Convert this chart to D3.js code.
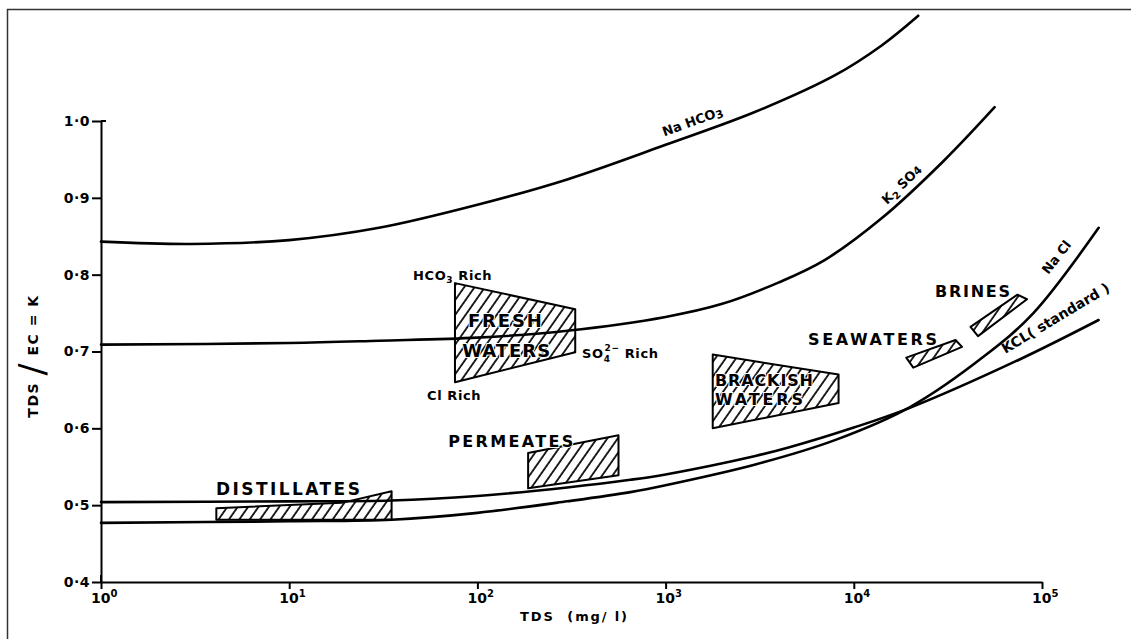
<!DOCTYPE html>
<html>
<head>
<meta charset="utf-8">
<script src="https://cdn.jsdelivr.net/npm/d3@7"></script>
<style>
  body { margin: 0; background: #fff; }
  svg { display: block; }
  text { font-family: "DejaVu Sans", sans-serif; fill: #000; }
</style>
</head>
<body>
<svg id="chart" width="1131" height="639"></svg>
<script>
// curves: TDS (mg/l) vs K = TDS/EC
const nahco3Tds = [1, 3, 10, 30, 100, 300, 1000, 3000, 8000, 14000, 22000]
const nahco3K   = [0.843, 0.840, 0.845, 0.861, 0.891, 0.924, 0.969, 1.012, 1.060, 1.098, 1.137]

const k2so4Tds = [1, 10, 30, 100, 300, 1000, 2000, 4000, 7000, 14000, 30000, 56000]
const k2so4K   = [0.709, 0.711, 0.714, 0.718, 0.727, 0.745, 0.762, 0.790, 0.819, 0.873, 0.948, 1.018]

const kclTds = [1, 10, 35, 100, 300, 650, 1000, 3000, 4500, 10000, 20000, 75000, 200000]
const kclK   = [0.504, 0.505, 0.506, 0.512, 0.523, 0.533, 0.540, 0.564, 0.575, 0.601, 0.627, 0.689, 0.741]

const naclTds = [1, 10, 35, 100, 300, 650, 1000, 3000, 8000, 20000, 50000, 90000, 200000]
const naclK   = [0.477, 0.479, 0.481, 0.490, 0.505, 0.517, 0.526, 0.553, 0.585, 0.628, 0.695, 0.750, 0.861]

// water type regions (TDS, K corners)
const freshWaters = [[76, 0.789], [331, 0.755], [331, 0.699], [76, 0.660]]
const brackishWaters = [[1780, 0.696], [8300, 0.670], [8300, 0.633], [1780, 0.600]]
const seawaters = [[19000, 0.692], [34700, 0.715], [37600, 0.706], [20700, 0.679]]
const brines = [[41700, 0.732], [74100, 0.774], [83200, 0.768], [45700, 0.720]]
const permeates = [[186, 0.568], [562, 0.591], [562, 0.539], [186, 0.522]]
const distillates = [[4.1, 0.481], [4.1, 0.496], [19, 0.503], [35, 0.518], [35, 0.481]]

const yTicks = [0.4, 0.5, 0.6, 0.7, 0.8, 0.9, 1.0]
const xTicks = [1, 10, 100, 1000, 10000, 100000]
const xExponents = ['0', '1', '2', '3', '4', '5']

// labels anchored in data units, with the lettered width
const regionLabels = [
    { text: 'FRESH', tds: 89, k: 0.732, size: 18, len: 74 },
    { text: 'WATERS', tds: 83, k: 0.693, size: 18, len: 88 },
    { text: 'BRACKISH', tds: 1830, k: 0.655, size: 16, len: 98 },
    { text: 'WATERS', tds: 1830, k: 0.631, size: 16, len: 88 },
    { text: 'SEAWATERS', tds: 5710, k: 0.709, size: 16, len: 129 },
    { text: 'BRINES', tds: 27000, k: 0.771, size: 16, len: 75 },
    { text: 'PERMEATES', tds: 70, k: 0.576, size: 16, len: 125 },
    { text: 'DISTILLATES', tds: 4.08, k: 0.513, size: 17, len: 144 },
]

const margin = { left: 101, right: 89, top: 121, bottom: 57 }
const size = { width: 1131, height: 639 }

const svg = d3.select('#chart')

const x = d3.scaleLog()
    .domain([1, 100000])
    .range([margin.left, size.width - margin.right])

const y = d3.scaleLinear()
    .domain([0.4, 1.0])
    .range([size.height - margin.bottom, margin.top])

// frame
svg.append('rect')
    .attr('x', 7.5).attr('y', 9.5)
    .attr('width', 1200).attr('height', 700)
    .attr('fill', 'none')
    .attr('stroke', '#333')
    .attr('stroke-width', 1.5)

const defs = svg.append('defs')
defs.append('pattern')
    .attr('id', 'hatch')
    .attr('width', 8.5).attr('height', 8.5)
    .attr('patternUnits', 'userSpaceOnUse')
    .attr('patternTransform', 'rotate(35)')
  .append('line')
    .attr('x1', 1).attr('y1', 0)
    .attr('x2', 1).attr('y2', 8.5)
    .attr('stroke', '#000')
    .attr('stroke-width', 1.7)

// axes
const yAxis = svg.append('g')
    .attr('transform', `translate(${margin.left},0)`)
    .call(d3.axisLeft(y)
        .tickValues(yTicks)
        .tickSize(9)
        .tickSizeOuter(0)
        .tickPadding(2)
        .tickFormat(d => d3.format('.1f')(d).replace('.', '·')))
yAxis.selectAll('path, line').attr('stroke-width', 2)
yAxis.selectAll('text')
    .style('font-family', '"DejaVu Sans", sans-serif')
    .style('font-size', '14px')
    .style('font-weight', 'bold')
    .style('letter-spacing', '0.5px')
// small hook at the top of the K axis
yAxis.append('line')
    .attr('x1', 0).attr('x2', 5)
    .attr('y1', y(1.0)).attr('y2', y(1.0))
    .attr('stroke', '#000').attr('stroke-width', 2)

const xAxis = svg.append('g')
    .attr('transform', `translate(0,${y(0.4)})`)
    .call(d3.axisBottom(x)
        .tickValues(xTicks)
        .tickSize(7)
        .tickSizeOuter(0)
        .tickFormat(''))
xAxis.selectAll('path, line').attr('stroke-width', 2)
// 0.4 / 10^0 crossing
xAxis.append('line')
    .attr('x1', x(1)).attr('x2', x(1))
    .attr('y1', -7).attr('y2', 0)
    .attr('stroke', '#000').attr('stroke-width', 2)

xTicks.forEach((t, i) => {
    const lbl = svg.append('text')
        .attr('x', x(t) - 10)
        .attr('y', y(0.4) + 21)
        .style('font-size', '14px')
        .style('font-weight', 'bold')
    lbl.append('tspan').text('10')
    lbl.append('tspan')
        .attr('dy', -6)
        .style('font-size', '10px')
        .text(xExponents[i])
})

svg.append('text')
    .attr('x', 520)
    .attr('y', 621)
    .attr('textLength', 107)
    .attr('lengthAdjust', 'spacing')
    .style('font-size', '13px')
    .style('font-weight', 'bold')
    .attr('xml:space', 'preserve')
    .text('TDS  (mg/ l)')

const yLabel = svg.append('text')
    .attr('transform', 'translate(38,356) rotate(-90)')
    .attr('text-anchor', 'middle')
    .style('font-size', '14px')
    .style('font-weight', 'bold')
    .style('letter-spacing', '1.5px')
yLabel.append('tspan').text('TDS ')
yLabel.append('tspan').style('font-size', '36px').style('font-weight', 'normal').attr('dy', 6).text('/')
yLabel.append('tspan').attr('dy', -6).text(' EC = K')

// regions
const poly = d3.line().x(d => x(d[0])).y(d => y(d[1]))
const regions = [freshWaters, brackishWaters, seawaters, brines, permeates, distillates]
svg.append('g')
    .selectAll('path')
    .data(regions)
    .enter()
        .append('path')
        .attr('d', d => poly(d) + 'Z')
        .attr('fill', 'url(#hatch)')
        .attr('stroke', '#000')
        .attr('stroke-width', 2)
        .attr('stroke-linejoin', 'round')

// curves
const curves = [
    { tds: nahco3Tds, k: nahco3K },
    { tds: k2so4Tds, k: k2so4K },
    { tds: kclTds, k: kclK },
    { tds: naclTds, k: naclK },
]
const line = d3.line()
    .x(d => x(d[0]))
    .y(d => y(d[1]))
    .curve(d3.curveCatmullRom.alpha(0.5))

svg.append('g')
    .selectAll('path')
    .data(curves)
    .enter()
        .append('path')
        .attr('d', c => line(c.tds.map((t, i) => [t, c.k[i]])))
        .attr('fill', 'none')
        .attr('stroke', '#000')
        .attr('stroke-width', 2.6)
        .attr('stroke-linecap', 'round')

// region labels
svg.append('g')
    .selectAll('text')
    .data(regionLabels)
    .enter()
        .append('text')
        .attr('x', d => x(d.tds))
        .attr('y', d => y(d.k))
        .attr('textLength', d => d.len)
        .attr('lengthAdjust', 'spacing')
        .style('font-size', d => d.size + 'px')
        .style('font-weight', 'bold')
        .style('paint-order', 'stroke')
        .style('stroke', '#fff')
        .style('stroke-width', '2px')
        .text(d => d.text)

// ion-rich notes around fresh waters
const note = (tds, k) => svg.append('text')
    .attr('x', x(tds)).attr('y', y(k))
    .style('font-size', '13px')
    .style('font-weight', 'bold')
    .style('letter-spacing', '0.6px')

const hco3 = note(45.5, 0.793)
hco3.append('tspan').text('HCO')
hco3.append('tspan').attr('dy', 3).style('font-size', '9px').text('3')
hco3.append('tspan').attr('dy', -3).text(' Rich')

note(54, 0.637).text('Cl Rich')

const so4 = note(360, 0.692)
so4.append('tspan').text('SO')
so4.append('tspan').attr('dy', 4).style('font-size', '9px').text('4')
so4.append('tspan').attr('dx', -6).attr('dy', -11).style('font-size', '9px').text('2−')
so4.append('tspan').attr('dy', 7).text(' Rich')

// curve labels
const curveLabel = (tds, k, angle, fs) => svg.append('text')
    .attr('transform', `translate(${x(tds)},${y(k)}) rotate(${angle})`)
    .attr('text-anchor', 'middle')
    .style('font-size', fs + 'px')
    .style('font-weight', 'bold')

const l1 = curveLabel(1416, 0.994, -20, 13)
l1.append('tspan').text('Na HCO')
l1.append('tspan').attr('dy', 2).style('font-size', '11px').text('3')

const l2 = curveLabel(18700, 0.913, -44, 13)
l2.append('tspan').text('K')
l2.append('tspan').attr('dy', 3).style('font-size', '10px').text('2')
l2.append('tspan').attr('dy', -3).text(' SO')
l2.append('tspan').style('font-size', '11px').text('4')

curveLabel(124700, 0.819, -52, 13).text('Na Cl')
curveLabel(121600, 0.738, -31, 14).attr('xml:space', 'preserve').text('KCL( standard )')
</script>
</body>
</html>
